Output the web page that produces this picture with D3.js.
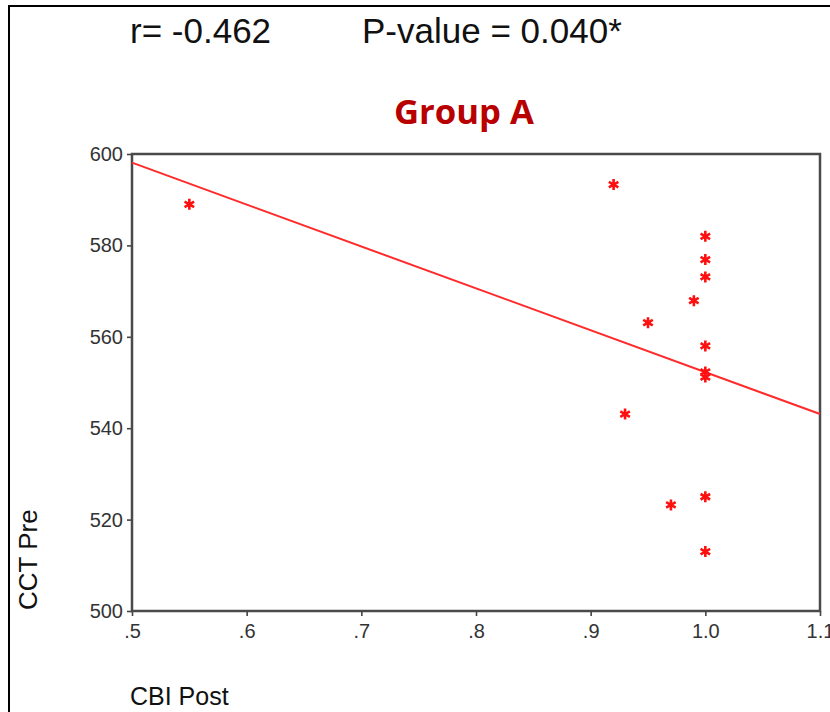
<!DOCTYPE html>
<html>
<head>
<meta charset="utf-8">
<script src="https://cdn.jsdelivr.net/npm/d3@7"></script>
<style>
  body { margin: 0; background: #fff; }
  svg { display: block; }
  .tick text { font-family: "Liberation Sans", Arial, sans-serif; font-size: 20px; fill: #333; }
</style>
</head>
<body>
<div id="chart"></div>
<script>
// CBI Post (x) vs CCT Pre (y)
var cbiPost = [0.55, 0.92, 1.00, 1.00, 1.00, 0.99, 0.95, 1.00, 1.00, 1.00, 0.93, 0.97, 1.00, 1.00];
var cctPre  = [589, 593.3, 582, 576.9, 573.1, 567.9, 563.1, 558, 552.3, 551.2, 543.1, 523.2, 525, 513];

// fitted line end points (as drawn in the source)
var fitX = [0.5, 1.1];
var fitY = [598.1, 543.1];

var xTicks = [0.5, 0.6, 0.7, 0.8, 0.9, 1.0, 1.1];
var xTickLabels = [".5", ".6", ".7", ".8", ".9", "1.0", "1.1"];
var yTicks = [500, 520, 540, 560, 580, 600];

var statR = "r= -0.462";
var statP = "P-value = 0.040*";
var title = "Group A";

var W = 830, H = 712;
var margin = {top: 154, right: 10, bottom: 101, left: 132};
var width = W - margin.left - margin.right,
    height = H - margin.top - margin.bottom;

var svg = d3.select("#chart").append("svg")
  .attr("width", W)
  .attr("height", H);

// outer frame (left + top only visible)
svg.append("path")
  .attr("d", "M9," + H + "V6H" + W)
  .attr("fill", "none")
  .attr("stroke", "#000")
  .attr("stroke-width", 2);

var x = d3.scaleLinear().domain([0.5, 1.1]).range([0, width]);
var y = d3.scaleLinear().domain([500, 600]).range([height, 0]);

var g = svg.append("g")
  .attr("transform", "translate(" + margin.left + "," + margin.top + ")");

// axes
var yAxis = g.append("g")
  .call(d3.axisLeft(y).tickValues(yTicks).tickSize(5).tickPadding(4).tickFormat(d3.format("d")));
var xAxis = g.append("g")
  .attr("transform", "translate(0," + height + ")")
  .call(d3.axisBottom(x).tickValues(xTicks).tickSize(5).tickPadding(8)
    .tickFormat(function(d, i) { return xTickLabels[i]; }));

[yAxis, xAxis].forEach(function(a) {
  a.select(".domain").remove();
  a.selectAll(".tick line").attr("stroke", "#444").attr("stroke-width", 1.6);
});

// plot frame
g.append("rect")
  .attr("width", width)
  .attr("height", height)
  .attr("fill", "none")
  .attr("stroke", "#4a4a4a")
  .attr("stroke-width", 2.5);

// fit line
g.append("line")
  .attr("x1", x(fitX[0])).attr("y1", y(fitY[0]))
  .attr("x2", x(fitX[1])).attr("y2", y(fitY[1]))
  .attr("stroke", "#ff2a2a")
  .attr("stroke-width", 2);

// asterisk markers
var r = 5.5;
var star = "M0," + (-r) + "V" + r +
  "M" + (-r * 0.87) + "," + (-r / 2) + "L" + (r * 0.87) + "," + (r / 2) +
  "M" + (-r * 0.87) + "," + (r / 2) + "L" + (r * 0.87) + "," + (-r / 2);

g.selectAll(".pt")
  .data(cbiPost)
  .enter().append("path")
  .attr("class", "pt")
  .attr("d", star)
  .attr("transform", function(d, i) { return "translate(" + x(d) + "," + y(cctPre[i]) + ")"; })
  .attr("fill", "none")
  .attr("stroke", "#ff1010")
  .attr("stroke-width", 2.6);

// texts
var font = "'Liberation Sans', Arial, sans-serif";
svg.append("text")
  .attr("x", 130).attr("y", 43)
  .attr("font-family", font).attr("font-size", 35).attr("fill", "#111")
  .text(statR);
svg.append("text")
  .attr("x", 362).attr("y", 43)
  .attr("font-family", font).attr("font-size", 35).attr("fill", "#111")
  .text(statP);

svg.append("text")
  .attr("x", 394).attr("y", 124)
  .attr("font-family", "'Open Sans', sans-serif").attr("font-weight", "bold")
  .attr("font-size", 34).attr("fill", "#b80000")
  .attr("textLength", 140).attr("lengthAdjust", "spacingAndGlyphs")
  .text(title);

svg.append("text")
  .attr("transform", "translate(37,610) rotate(-90)")
  .attr("font-family", font).attr("font-size", 26).attr("fill", "#111")
  .text("CCT Pre");

svg.append("text")
  .attr("x", 130).attr("y", 705)
  .attr("font-family", font).attr("font-size", 25).attr("fill", "#111")
  .text("CBI Post");
</script>
</body>
</html>
